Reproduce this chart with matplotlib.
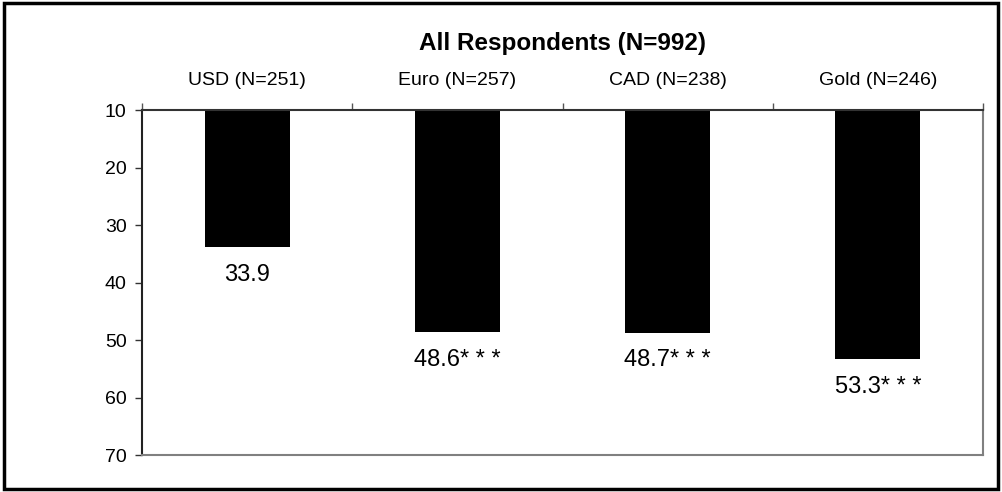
import matplotlib.pyplot as plt
from matplotlib.patches import Rectangle

plt.rcParams['font.family'] = ['Liberation Sans', 'DejaVu Sans']

# data
categories = ['USD (N=251)', 'Euro (N=257)', 'CAD (N=238)', 'Gold (N=246)']
values = [33.9, 48.6, 48.7, 53.3]
value_labels = ['33.9', '48.6* * *', '48.7* * *', '53.3* * *']
yticks = [10, 20, 30, 40, 50, 60, 70]
title = 'All Respondents (N=992)'

fig = plt.figure(figsize=(10.03, 4.92), dpi=100)
ax = fig.add_axes([0.1416, 0.0752, 0.8385, 0.7012])

x = list(range(len(categories)))
ax.bar(x, values, width=0.405, color='black')

ax.set_xlim(-0.5, len(categories) - 0.5)
ax.set_ylim(70, 10)

# category labels on top, boundary ticks
ax.xaxis.tick_top()
ax.set_xticks(x)
ax.set_xticklabels(categories, fontsize=14)
ax.tick_params(axis='x', which='major', length=0, pad=15)
ax.set_xticks([i - 0.5 for i in range(len(categories) + 1)], minor=True)
ax.tick_params(axis='x', which='minor', length=5, width=1, direction='out', color='#555555')

ax.set_yticks(yticks)
ax.tick_params(axis='y', length=5, width=1, direction='out', labelsize=14, pad=6, color='#333333')

ax.spines['top'].set_color('#333333')
ax.spines['left'].set_color('#222222')
ax.spines['right'].set_color('#808080')
ax.spines['bottom'].set_color('#808080')
for s in ax.spines.values():
    s.set_linewidth(1.5)

for xi, v, lab in zip(x, values, value_labels):
    ax.annotate(lab, (xi, v), xytext=(0, -12), textcoords='offset points',
                ha='center', va='top', fontsize=17)

fig.text(0.5605, 0.912, title, ha='center', va='center', fontsize=17.5, fontweight='bold')

# outer frame
fig.patches.append(Rectangle((0.004, 0.006), 0.991, 0.988, transform=fig.transFigure,
                             fill=False, edgecolor='black', linewidth=2.5))

plt.savefig('out.png', dpi=100)
